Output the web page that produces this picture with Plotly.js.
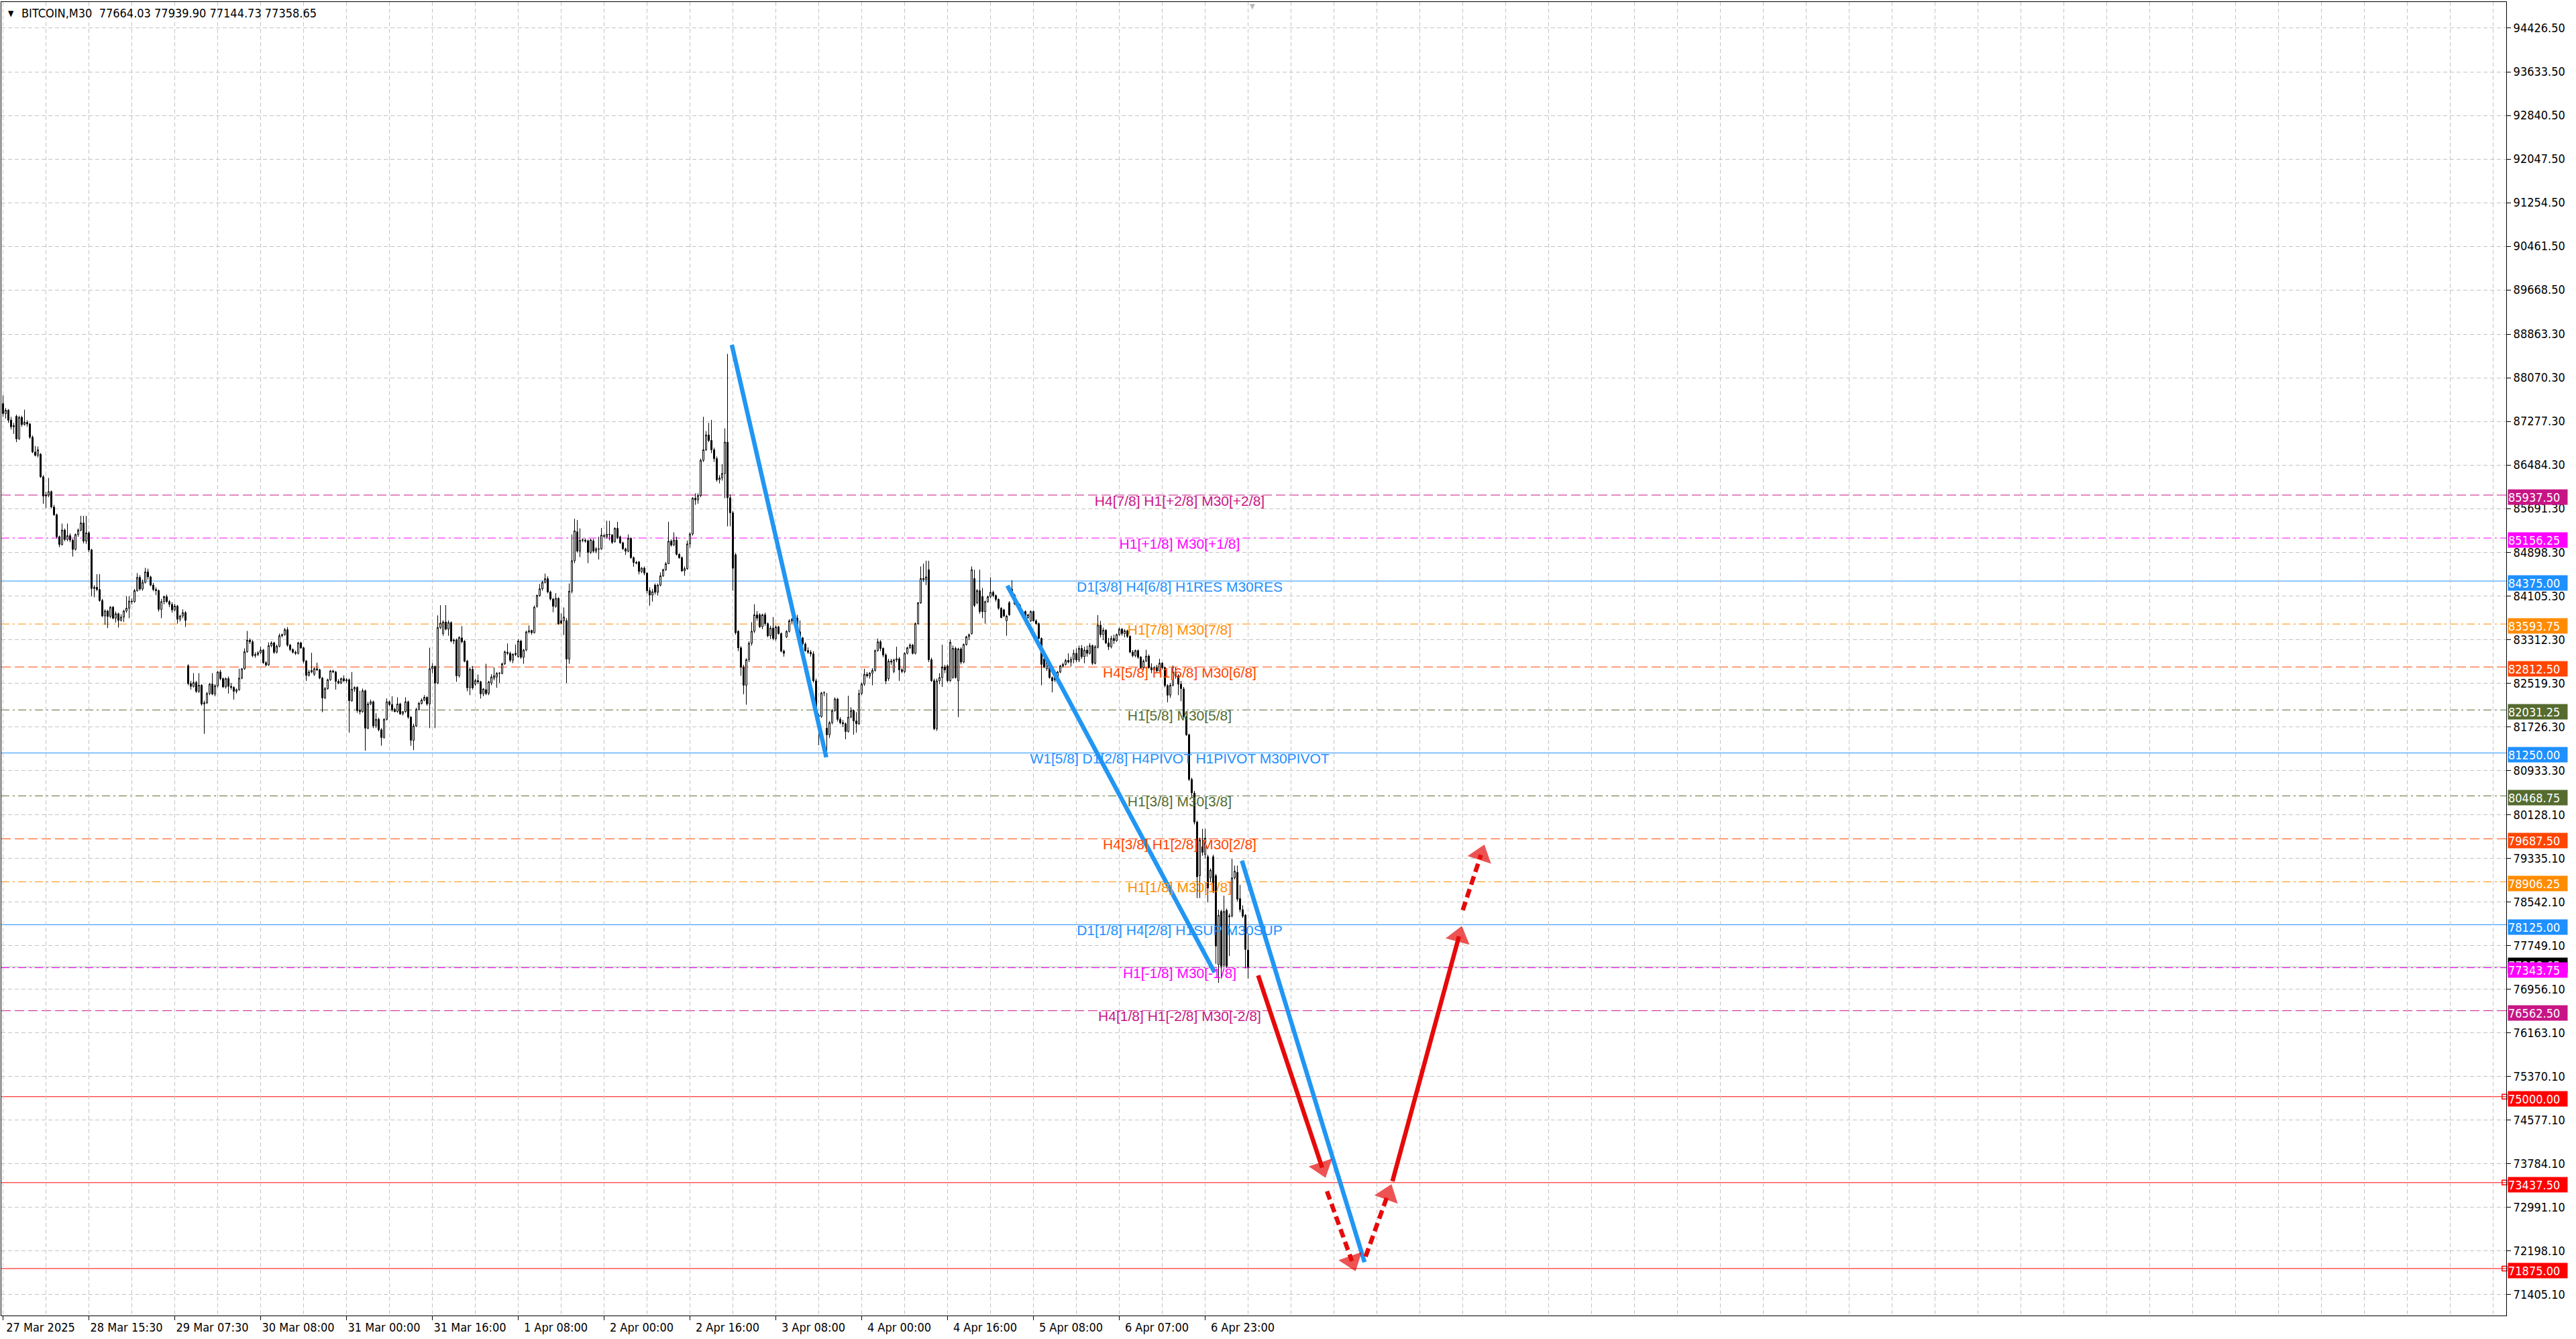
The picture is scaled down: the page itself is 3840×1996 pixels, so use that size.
<!DOCTYPE html>
<html>
<head>
<meta charset="utf-8">
<script src="https://cdn.plot.ly/plotly-3.0.1.min.js"></script>
<style>
  html, body { margin: 0; padding: 0; background: #ffffff; overflow: hidden; }
  #chart { width: 3840px; height: 1996px; }
</style>
</head>
<body>
<div id="chart"></div>
<script>
// ---- BITCOIN M30 bars (open / high / low / close), oldest first ----
const symbolName = 'BITCOIN,M30';

const barOpen = [
  87600,87420,87480,87300,87180,87370,86960,87350,87220,87260,
  87230,86990,86720,86660,86680,86270,85920,85940,86000,85720,
  85580,85180,85040,85300,85130,85200,85120,84950,85220,85300,
  85430,85100,85250,84940,84240,84260,84220,84020,83740,83830,
  83730,83900,83700,83780,83660,83720,83830,83880,84010,84000,
  84200,84440,84230,84350,84540,84450,84300,84220,84200,83860,
  84000,84090,84000,83950,83850,83920,83680,83740,83800,82835,
  82510,82460,82530,82370,82480,82140,82160,82330,82500,82320,
  82470,82720,82600,82450,82600,82460,82440,82370,82400,82610,
  82780,83090,83300,83270,83020,83040,83070,83120,82890,82850,
  83200,83250,83080,83190,83380,83400,83490,83210,83130,83080,
  83060,83250,83160,82920,82660,82720,82680,82780,82760,82610,
  82250,82420,82580,82740,82720,82550,82520,82600,82560,82580,
  82200,82410,82440,82020,82000,82380,81700,82140,82180,81740,
  81860,81670,81530,81860,82180,82130,82040,82000,82140,81960,
  82000,82180,81900,81480,81740,82040,82150,82210,82260,82140,
  82780,82820,82520,83530,83420,83630,83500,83620,83284,83306,
  82652,83340,83280,82920,82434,82770,82500,82565,82543,82325,
  82400,82334,82521,82608,82630,82696,82696,82870,83080,83060,
  82935,83040,83001,83284,82990,83120,83450,83476,83436,83916,
  84112,84234,84351,84417,84177,84047,83916,84060,83654,83654,
  83654,82957,84190,84744,85270,84918,85114,85120,85105,84896,
  85105,84918,84961,84961,85200,85179,85223,85210,85092,85332,
  85179,85070,84961,84918,85149,84800,84713,84720,84548,84609,
  84520,84200,84120,84300,84170,84300,84470,84580,84690,85100,
  85030,85120,84860,84800,84560,84600,85050,85230,85880,85850,
  85930,86570,86760,87030,86930,86760,86600,86216,86250,86330,
  86900,85888,85616,84853,83462,83160,82808,82481,82944,83244,
  83462,83760,83760,83544,83760,83600,83380,83520,83330,83540,
  83420,83100,83360,83460,83650,83680,83700,83450,83340,83230,
  83110,83080,83050,82560,81930,81910,82340,81700,81580,81800,
  82020,82230,81860,81800,81780,81640,81900,82020,81830,81780,
  82330,82500,82680,82650,82700,82750,83110,83270,83150,83030,
  82600,82920,82730,82940,82960,82760,82730,83060,83160,83210,
  83060,83600,83980,84420,84400,84580,82944,82563,81690,82560,
  82620,82810,82830,82563,82620,83150,82560,83140,82900,83220,
  83360,83420,84420,83980,84200,84090,83817,84000,84090,84170,
  84110,84040,83880,83850,83653,83980,84225,84117,83960,83930,
  83770,83820,83710,83650,83820,83650,83600,83330,82960,82780,
  82890,82620,82620,82620,82720,82830,82860,82930,82900,82950,
  83060,82940,83150,83000,83120,83060,83200,82880,83170,83572,
  83400,83480,83250,83180,83330,83290,83400,83500,83420,83470,
  83370,83084,83020,83110,82990,82800,82920,83010,82800,82760,
  82800,82740,82880,82800,82474,82300,82480,82720,82650,82500,
  82413,81905,81580,80767,80520,79992,79017,79545,79400,79363,
  78977,79363,79017,77400,78367,77393,78388,78270,78286,78977,
  79078,78600,78400,78300,77664.03
];

const barHigh = [
  87750,87520,87500,87360,87250,87400,87380,87380,87490,87300,
  87250,87020,86830,86820,86700,86300,86000,86250,86020,85760,
  85600,85200,85420,85330,85420,85240,85140,85240,85330,85560,
  85560,85560,85280,84960,84300,84500,84500,84050,83860,83850,
  83920,83920,83820,83800,83770,83850,84100,84100,84060,84230,
  84520,84480,84400,84614,84600,84470,84340,84260,84220,84050,
  84110,84130,84030,83990,83960,83940,83760,83860,83830,82860,
  82560,82700,82560,82700,82500,82200,82360,82520,82700,82500,
  82740,82760,82620,82620,82640,82520,82460,82420,82780,82790,
  83150,83467,83330,83300,83080,83100,83180,83140,82920,83260,
  83280,83270,83220,83420,83420,83520,83537,83230,83150,83110,
  83270,83270,83180,82940,82760,83070,82800,82890,82780,82630,
  82450,82600,82760,82760,82740,82590,82620,82660,82610,82600,
  82720,82460,82460,82380,82420,82400,82180,82220,82200,81970,
  81890,81700,81880,82240,82200,82280,82070,82260,82160,82010,
  82260,82200,81920,81780,82070,82180,82240,82300,82280,83163,
  82880,82840,83750,83935,83660,83937,83660,83640,83330,83330,
  83370,83555,83300,82940,82805,82830,82600,82675,82560,82430,
  82870,82560,82680,82805,82720,82720,82890,83110,83241,83090,
  83060,83220,83320,83300,83140,83470,83568,83490,83930,84130,
  84321,84380,84510,84460,84200,84070,84155,84080,83785,83895,
  83700,84330,85223,85506,85484,85332,85150,85150,85130,85140,
  85140,84990,85179,85340,85230,85471,85471,85230,85350,85450,
  85200,85090,84980,85223,85170,84820,84740,84740,84630,84640,
  84530,84260,84230,84330,84330,84530,84600,84720,85452,85130,
  85260,85180,84880,84820,84640,85110,85260,85900,85970,85970,
  86600,87360,87100,87250,87305,86800,86640,86300,86500,87150,
  88505,85950,85650,84880,83480,83190,82850,82970,83280,83626,
  83953,83830,83790,83780,83800,83620,83560,83720,83570,83560,
  83440,83130,83480,83680,83700,83770,83760,83660,83360,83260,
  83170,83120,83100,82600,81960,82360,82370,82340,81830,82050,
  82260,82250,81900,81850,81800,82290,82080,82040,81990,82400,
  82530,82780,82720,82720,82790,83130,83330,83300,83170,83060,
  82960,82960,82960,83180,82990,82790,83080,83180,83240,83230,
  83620,83990,84640,84690,84744,84744,82980,82600,82600,82700,
  83217,82850,82860,83310,83200,83180,83160,83170,83240,83380,
  83420,84640,84580,84230,84580,84250,84020,84110,84443,84200,
  84130,84060,83900,83870,83760,84010,84390,84140,84000,83960,
  83830,83840,83780,83840,83840,83680,83620,83350,82990,82960,
  82910,82640,82650,82740,82850,82890,82960,83060,83000,83125,
  83150,83200,83210,83180,83200,83246,83220,83210,83755,83650,
  83530,83500,83340,83380,83400,83420,83530,83520,83500,83490,
  83390,83120,83130,83130,83010,82950,83125,83040,82880,82830,
  82850,82960,82900,82820,82500,82520,82840,82800,82680,82560,
  82450,81930,81600,80800,80560,80020,79708,79870,79870,79400,
  79150,79400,79050,78400,78400,78652,78420,78330,79322,79200,
  79200,78850,78480,78320,77939.90
];

const barLow = [
  87360,87330,87250,87130,87050,86900,86940,87180,87200,87180,
  86960,86700,86640,86620,86250,85780,85700,85900,85700,85560,
  85150,84990,85020,85100,85100,85080,84820,84930,85180,85280,
  85060,85050,84900,84100,84080,84190,84000,83720,83580,83520,
  83700,83680,83620,83530,83640,83630,83800,83700,83950,83980,
  84180,84200,84200,84330,84400,84280,84190,84120,83820,83700,
  83950,83980,83900,83800,83820,83600,83640,83700,83540,82480,
  82400,82440,82340,82340,82110,81597,82140,82300,82300,82280,
  82440,82570,82430,82420,82330,82400,82220,82330,82380,82590,
  82760,83070,83230,82990,82980,83010,83050,82870,82820,82830,
  83170,83050,83060,83170,83350,83380,83180,83100,83060,83030,
  83040,83140,82880,82560,82640,82700,82650,82740,82590,81990,
  82230,82400,82560,82700,82400,82500,82500,82540,82520,81620,
  82180,82360,81980,81950,81980,81290,81680,82120,81700,81700,
  81640,81380,81510,81840,82100,82000,81990,81980,81940,81930,
  81980,81870,81380,81300,81720,82020,82130,82190,82110,81700,
  82700,81700,82500,83500,83380,83480,83380,83260,83230,82543,
  82620,83240,82900,82370,82300,82400,82470,82500,82238,82280,
  82300,82300,82480,82570,82434,82521,82680,82850,83030,82900,
  82880,83010,82980,82960,82870,83100,83420,83400,83420,83890,
  84090,84200,84330,84150,84020,83807,83890,83580,83590,83392,
  82521,82870,84150,84700,84890,84810,85080,85070,84700,84870,
  84890,84880,84765,84940,85150,85150,85114,85050,85070,85140,
  85050,84940,84850,84900,84780,84635,84680,84495,84520,84480,
  84150,83926,84000,84130,84110,84280,84450,84560,84680,85000,
  85010,84840,84780,84540,84471,84580,84980,85200,85760,85780,
  85900,86540,86740,86900,86700,86540,86180,86150,86200,85880,
  85370,85370,84198,83400,83100,82650,82317,82127,82900,83200,
  83430,83650,83520,83500,83560,83350,83320,83300,83290,83400,
  83080,83000,83340,83440,83600,83640,83430,83300,83200,83090,
  83050,83000,82530,81910,81390,81890,82280,81200,81520,81770,
  82000,81820,81770,81720,81499,81620,81880,81580,81620,81760,
  82300,82470,82620,82600,82480,82730,83090,83100,82990,82500,
  82560,82850,82700,82900,82560,82700,82700,83040,83140,83040,
  83040,83580,83960,84360,84300,82900,82540,81663,81650,82500,
  82450,82700,82530,82540,82600,82600,81900,82860,82880,83200,
  83300,83400,83900,83950,83780,83700,83600,83980,84060,84080,
  84000,83850,83700,83720,83380,83740,84100,83940,83900,83800,
  83740,83640,83690,83630,83640,83580,83320,82480,82790,82740,
  82600,82350,82540,82600,82700,82800,82840,82880,82820,82880,
  82900,82900,82960,82880,83000,83040,82850,82860,83150,83350,
  83300,83230,83120,83150,83230,83270,83380,83380,83350,83340,
  83060,82990,82990,82960,82780,82760,82900,82780,82700,82700,
  82720,82730,82770,82440,82169,82250,82460,82600,82300,82189,
  81880,81560,80740,80450,79950,78611,78611,79380,79330,78530,
  78900,78700,77413,77068,77149,77350,77350,77555,78260,78950,
  78550,78350,78250,77332,77144.73
];

const barClose = [
  87420,87480,87300,87180,87200,86960,87350,87220,87260,87230,
  86990,86720,86660,86760,86270,85920,85940,86000,85720,85580,
  85180,85040,85300,85130,85200,85120,84950,85220,85300,85430,
  85100,85250,84940,84240,84260,84220,84020,83740,83830,83730,
  83900,83700,83780,83660,83720,83830,83880,84010,84000,84200,
  84440,84230,84350,84540,84450,84300,84220,84200,83860,84000,
  84090,84000,83950,83850,83920,83680,83740,83800,83660,82510,
  82460,82530,82370,82480,82140,82160,82330,82500,82320,82470,
  82720,82600,82450,82600,82460,82440,82370,82400,82610,82780,
  83090,83300,83270,83020,83040,83070,83120,82890,82850,83200,
  83250,83080,83190,83380,83400,83490,83210,83130,83080,83060,
  83250,83160,82920,82660,82720,82750,82780,82760,82610,82250,
  82420,82580,82740,82720,82550,82520,82600,82560,82580,82200,
  82410,82440,82020,82000,82380,81700,82140,82180,81740,81860,
  81670,81530,81860,82180,82130,82040,82000,82140,81960,82000,
  82180,81900,81480,81740,82040,82150,82210,82260,82140,82780,
  82820,82520,83530,83610,83630,83500,83620,83284,83300,82652,
  83350,83270,82915,82434,82770,82434,82565,82540,82325,82412,
  82330,82543,82630,82652,82696,82700,82870,83088,83060,82935,
  83044,83060,83284,82990,83120,83450,83470,83436,83900,84112,
  84234,84351,84417,84177,84047,83916,84060,83598,83610,83720,
  82957,84190,84744,85288,84918,85114,85123,85100,84896,85123,
  84918,84961,84955,85210,85190,85223,85220,85079,85332,85158,
  85070,84961,84918,85149,84800,84713,84700,84548,84609,84520,
  84200,84120,84180,84170,84300,84470,84580,84690,85100,85030,
  85120,84860,84800,84560,84600,85050,85230,85880,85850,85930,
  86570,86760,87030,86930,86760,86600,86216,86250,86330,86900,
  85888,85616,84607,83435,83160,82808,82481,82944,83244,83462,
  83760,83700,83544,83760,83600,83380,83520,83330,83540,83420,
  83100,83060,83460,83650,83680,83700,83450,83340,83230,83110,
  83080,83050,82560,81930,81910,82340,82345,81580,81800,82020,
  82230,81860,81800,81780,81640,81900,82020,81830,81780,82330,
  82500,82680,82650,82700,82750,83110,83270,83150,83030,82560,
  82920,82900,82940,82960,82760,82730,83060,83160,83210,83060,
  83600,83980,84420,84400,84450,82944,82563,81690,82560,82620,
  82810,82760,82563,83260,83150,82620,83140,82900,83220,83360,
  83400,84580,83930,84200,83820,83817,84000,84090,84170,84110,
  84040,83880,83710,83740,83735,83762,84117,83960,83930,83820,
  83820,83650,83760,83820,83650,83600,83330,82860,82810,82940,
  82620,82560,82580,82720,82830,82860,82930,82900,82950,83060,
  82940,83150,83000,83120,83060,83200,82880,83180,83572,83400,
  83480,83250,83180,83330,83290,83400,83500,83420,83470,83370,
  83084,83020,83110,82990,82800,82920,83010,82800,82760,82800,
  82740,82880,82800,82474,82300,82480,82720,82650,82500,82420,
  81905,81580,80767,80523,79992,78997,79667,79444,79700,78794,
  79119,78733,77738,78300,77373,78367,77373,78290,78977,79099,
  78591,78400,78280,77677,77358.65
];

// ---- time axis: bar number of each labelled tick and its text ----
const dateTickBars = [0, 32, 64, 96, 128, 160, 192, 224, 256, 288, 320, 352, 384, 416, 448];
const dateTickLabels = ['27 Mar 2025', '28 Mar 15:30', '29 Mar 07:30', '30 Mar 08:00', '31 Mar 00:00',
  '31 Mar 16:00', '1 Apr 08:00', '2 Apr 00:00', '2 Apr 16:00', '3 Apr 08:00', '4 Apr 00:00',
  '4 Apr 16:00', '5 Apr 08:00', '6 Apr 07:00', '6 Apr 23:00'];

// ---- price scale ticks ----
const priceTicks = [94426.50, 93633.50, 92840.50, 92047.50, 91254.50, 90461.50, 89668.50, 88863.30,
  88070.30, 87277.30, 86484.30, 85691.30, 84898.30, 84105.30, 83312.30, 82519.30, 81726.30,
  80933.30, 80128.10, 79335.10, 78542.10, 77749.10, 76956.10, 76163.10, 75370.10, 74577.10,
  73784.10, 72991.10, 72198.10, 71405.10];

// ---- Murrey-math style levels ----
const levelPrices = [85937.50, 85156.25, 84375.00, 83593.75, 82812.50, 82031.25, 81250.00, 80468.75,
  79687.50, 78906.25, 78125.00, 77343.75, 76562.50, 75000.00, 73437.50, 71875.00];
const levelNames = ['H4[7/8] H1[+2/8] M30[+2/8]', 'H1[+1/8] M30[+1/8]', 'D1[3/8] H4[6/8] H1RES M30RES',
  'H1[7/8] M30[7/8]', 'H4[5/8] H1[6/8] M30[6/8]', 'H1[5/8] M30[5/8]',
  'W1[5/8] D1[2/8] H4PIVOT H1PIVOT M30PIVOT', 'H1[3/8] M30[3/8]', 'H4[3/8] H1[2/8] M30[2/8]',
  'H1[1/8] M30[1/8]', 'D1[1/8] H4[2/8] H1SUP M30SUP', 'H1[-1/8] M30[-1/8]', 'H4[1/8] H1[-2/8] M30[-2/8]',
  '', '', ''];

// ---- drawn trend lines (bar number, price) ----
const trend1Bars = [271.6, 306.8];  const trend1Prices = [88670, 81170];
const trend2Bars = [374.3, 451.5];  const trend2Prices = [84290, 77260];
const trend3Bars = [461.7, 507.4];  const trend3Prices = [79290, 71990];

// ---- projected path arrows (bar number, price); last point = arrow head ----
const dropBars = [467.75, 491.6];    const dropPrices = [77205, 73710];
const dropExtBars = [493.4, 502.7];  const dropExtPrices = [73280, 72010];
const bounceBars = [507.8, 516.1];   const bouncePrices = [72093, 73224];
const riseBars = [517.8, 542.6];     const risePrices = [73463, 77915];
const riseExtBars = [544.0, 550.8];  const riseExtPrices = [78391, 79398];

// ---------------- styling ----------------
const AXIS_FONT = "'DejaVu Sans Condensed', 'DejaVu Sans', sans-serif";
const LABEL_FONT = "'Liberation Sans', Arial, sans-serif";
const GRID = '#c4c4c4';
const GRID_DASH = '6px,4px';
const TREND_BLUE = '#2196F3';
const ARROW_RED = '#E60A0A';
const levelColors = ['#C71585', '#FF00FF', '#1E90FF', '#FF8C00', '#FF4500', '#556B2F', '#1E90FF', '#556B2F',
  '#FF4500', '#FF8C00', '#1E90FF', '#FF00FF', '#C71585', '#FF0000', '#FF0000', '#FF0000'];
const DASHED = '14px,6px';
const DASHDOT = '12px,5px,3px,5px';
const levelDashes = [DASHED, DASHDOT, 'solid', DASHDOT, DASHED, DASHDOT, 'solid', DASHDOT,
  DASHED, DASHDOT, 'solid', DASHDOT, DASHED, 'solid', 'solid', 'solid'];
const LABEL_BAR = 438.5;      // horizontal centre of the level captions
const RIGHT_EDGE_BAR = 932.2; // anchor squares of the horizontal lines

const lastBar = barClose.length - 1;
const barIndex = barClose.map((_, i) => i);

// ---------------- traces ----------------
const traces = [];

// thick blue trend lines (candles drawn over them)
[[trend1Bars, trend1Prices], [trend2Bars, trend2Prices], [trend3Bars, trend3Prices]].forEach(([xs, ys]) => {
  traces.push({ type: 'scatter', mode: 'lines', x: xs, y: ys, hoverinfo: 'skip',
    line: { color: TREND_BLUE, width: 6.5 } });
});

// level captions
const captionIdx = levelNames.map((t, i) => i).filter(i => levelNames[i] !== '');
traces.push({
  type: 'scatter', mode: 'text', hoverinfo: 'skip',
  x: captionIdx.map(() => LABEL_BAR),
  y: captionIdx.map(i => levelPrices[i]),
  text: captionIdx.map(i => levelNames[i]),
  textposition: 'bottom center',
  textfont: { family: LABEL_FONT, size: 21, color: captionIdx.map(i => levelColors[i]) }
});

// candles
traces.push({
  type: 'candlestick', x: barIndex, open: barOpen, high: barHigh, low: barLow, close: barClose,
  increasing: { line: { color: '#000000', width: 1 }, fillcolor: '#ffffff' },
  decreasing: { line: { color: '#000000', width: 1 }, fillcolor: '#000000' },
  whiskerwidth: 0, hoverinfo: 'skip'
});

// projected path: red arrows
[[dropBars, dropPrices, 'solid'], [dropExtBars, dropExtPrices, '13px,7px'],
 [bounceBars, bouncePrices, '13px,7px'], [riseBars, risePrices, 'solid'],
 [riseExtBars, riseExtPrices, '13px,7px']].forEach(([xs, ys, dash]) => {
  traces.push({
    type: 'scatter', mode: 'lines+markers', x: xs, y: ys, hoverinfo: 'skip', cliponaxis: false,
    line: { color: ARROW_RED, width: 6.5, dash: dash },
    marker: { symbol: 'triangle-up', size: [0, 32], color: ARROW_RED, angleref: 'previous',
      line: { width: 0 } }
  });
});

// anchor squares at the end of the red horizontal lines
const redLevelIdx = [13, 14, 15];
traces.push({
  type: 'scatter', mode: 'markers', hoverinfo: 'skip', cliponaxis: false,
  x: redLevelIdx.map(() => RIGHT_EDGE_BAR), y: redLevelIdx.map(i => levelPrices[i]),
  marker: { symbol: 'square-open', size: 7, color: '#FF0000', line: { width: 1.5, color: '#FF0000' } }
});

// ---------------- shapes ----------------
const shapes = levelPrices.map((p, i) => ({
  type: 'line', xref: 'paper', x0: 0, x1: 1, yref: 'y', y0: p, y1: p, layer: 'below',
  line: { color: levelColors[i], width: 1, dash: levelDashes[i] }
}));
// bid line
shapes.push({ type: 'line', xref: 'paper', x0: 0, x1: 1, yref: 'y',
  y0: barClose[lastBar], y1: barClose[lastBar], layer: 'below',
  line: { color: '#b0b0b0', width: 1 } });

// ---------------- annotations ----------------
const annotations = [];
// bid price tag (sits behind the level tag next to it)
annotations.push({
  xref: 'paper', x: 1, xanchor: 'left', xshift: 2, yref: 'y', y: barClose[lastBar], yanchor: 'middle', yshift: 2,
  text: barClose[lastBar].toFixed(2), showarrow: false, bgcolor: '#000000', width: 88, height: 22,
  align: 'left', borderpad: 0, font: { family: AXIS_FONT, size: 18, color: '#ffffff' }
});
levelPrices.forEach((p, i) => {
  annotations.push({
    xref: 'paper', x: 1, xanchor: 'left', xshift: 2, yref: 'y', y: p, yanchor: 'middle', yshift: -3,
    text: p.toFixed(2), showarrow: false, bgcolor: levelColors[i], width: 88, height: 22,
    align: 'left', borderpad: 0, font: { family: AXIS_FONT, size: 18, color: '#ffffff' }
  });
});
// chart header
annotations.push({
  xref: 'paper', x: 0, xanchor: 'left', xshift: 8, yref: 'paper', y: 1, yanchor: 'top', yshift: -8,
  text: '\u25BC', showarrow: false, font: { family: AXIS_FONT, size: 12, color: '#000000' }
});
annotations.push({
  xref: 'paper', x: 0, xanchor: 'left', xshift: 28, yref: 'paper', y: 1, yanchor: 'top', yshift: -4,
  text: symbolName + '\u00A0\u00A0' + [barOpen[lastBar], barHigh[lastBar], barLow[lastBar], barClose[lastBar]]
    .map(v => v.toFixed(2)).join(' '),
  showarrow: false, font: { family: AXIS_FONT, size: 18, color: '#000000' }
});
// chart shift marker
annotations.push({
  xref: 'x', x: lastBar + 1.5, xanchor: 'center', yref: 'paper', y: 1, yanchor: 'top', yshift: 2,
  text: '\u25BC', showarrow: false, font: { family: AXIS_FONT, size: 11, color: '#b8b8b8' }
});

// ---------------- layout ----------------
const layout = {
  width: 3840, height: 1996,
  margin: { l: 2, r: 104, t: 3, b: 35, pad: 0 },
  paper_bgcolor: '#ffffff', plot_bgcolor: '#ffffff',
  showlegend: false, hovermode: false, dragmode: false,
  boxgap: 0.5, boxgroupgap: 0,
  font: { family: AXIS_FONT, size: 18, color: '#000000' },
  xaxis: {
    type: 'linear', range: [-0.625, 932.875], fixedrange: true,
    rangeslider: { visible: false },
    tickmode: 'array', tickvals: dateTickBars, ticktext: dateTickLabels,
    ticks: 'outside', ticklen: 6, tickwidth: 1, tickcolor: '#000000',
    ticklabelshift: 56, ticklabelstandoff: -5,
    tickfont: { family: AXIS_FONT, size: 18, color: '#000000' },
    showgrid: true, gridcolor: GRID, gridwidth: 1, griddash: GRID_DASH,
    minor: { tickmode: 'linear', tick0: 0, dtick: 16, showgrid: true, gridcolor: GRID,
      gridwidth: 1, griddash: GRID_DASH, ticks: '' },
    showline: true, linecolor: '#000000', linewidth: 1, mirror: true, zeroline: false
  },
  yaxis: {
    side: 'right', type: 'linear', range: [71021, 94902], fixedrange: true,
    tickmode: 'array', tickvals: priceTicks, ticktext: priceTicks.map(v => v.toFixed(2)),
    ticks: 'outside', ticklen: 6, tickwidth: 1, tickcolor: '#000000',
    tickfont: { family: AXIS_FONT, size: 18, color: '#000000' },
    showgrid: true, gridcolor: GRID, gridwidth: 1, griddash: GRID_DASH,
    showline: true, linecolor: '#000000', linewidth: 1, mirror: true, zeroline: false
  },
  shapes: shapes,
  annotations: annotations
};

Plotly.newPlot('chart', traces, layout, { staticPlot: true, displayModeBar: false });
</script>
</body>
</html>
